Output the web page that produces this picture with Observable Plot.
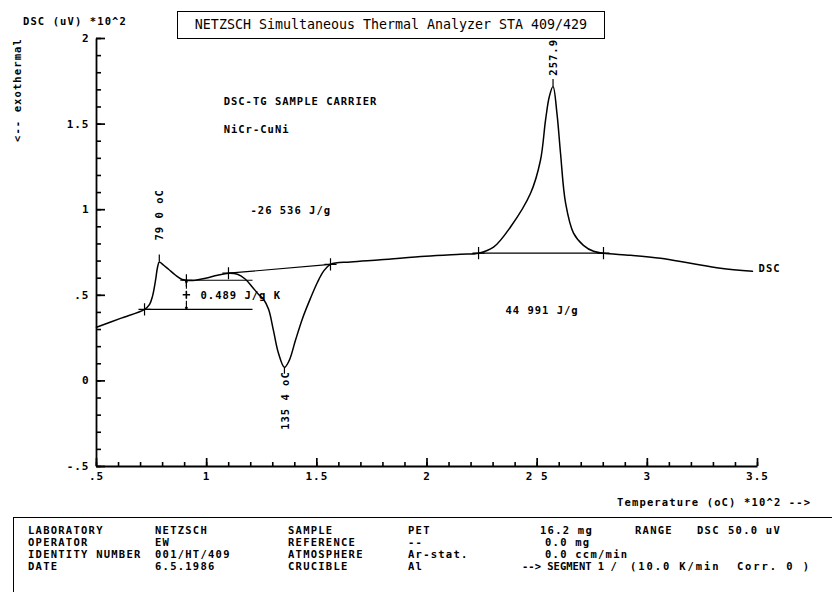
<!DOCTYPE html>
<html>
<head>
<meta charset="utf-8">
<script src="https://cdn.jsdelivr.net/npm/d3@7"></script>
<script src="https://cdn.jsdelivr.net/npm/@observablehq/plot@0.6"></script>
<style>
  html, body { margin: 0; padding: 0; background: #fff; }
  #wrap { position: relative; width: 832px; height: 592px; overflow: hidden; font-family: "DejaVu Sans Mono", monospace; color: #000; }
  #wrap svg { position: absolute; left: 0; top: 0; }
  .abs { position: absolute; white-space: pre; font-weight: bold; font-size: 10.5px; letter-spacing: 1.1px; line-height: 12px; }
  #title { position: absolute; left: 177px; top: 11px; width: 426px; height: 26px; border: 1.5px solid #000;
           font-size: 13.3px; line-height: 26px; text-align: center; white-space: pre; }
  #tbl { position: absolute; left: 13px; top: 517px; width: 830px; height: 90px; border-top: 1.5px solid #000; border-left: 1.5px solid #000; }
  .cell { position: absolute; white-space: pre; font-weight: bold; font-size: 10.5px; letter-spacing: 1.25px; line-height: 12px; }
</style>
</head>
<body>
<div id="wrap"></div>
<script>
// ---- DSC curve (temperature in °C ×10^2, DSC in uV ×10^2) ----
const temperature = [0.500, 0.609, 0.718, 0.741, 0.754, 0.768, 0.777, 0.785, 0.800, 0.827, 0.859, 0.886, 0.908, 0.949, 0.995,
  1.049, 1.099, 1.140, 1.176, 1.208, 1.235, 1.258, 1.281, 1.303, 1.326, 1.353, 1.375, 1.403, 1.435, 1.471, 1.503, 1.530, 1.562,
  1.653, 1.789, 1.993, 2.152, 2.234, 2.302, 2.379, 2.470, 2.515, 2.538, 2.555, 2.572, 2.590, 2.606, 2.629, 2.665, 2.710, 2.756,
  2.801, 2.924, 3.060, 3.196, 3.332, 3.477];
const dscValue = [0.313, 0.365, 0.418, 0.447, 0.494, 0.588, 0.664, 0.695, 0.681, 0.652, 0.617, 0.594, 0.588, 0.588, 0.599,
  0.617, 0.629, 0.623, 0.594, 0.547, 0.506, 0.477, 0.418, 0.295, 0.161, 0.079, 0.120, 0.237, 0.365, 0.482, 0.576, 0.640, 0.681,
  0.695, 0.707, 0.728, 0.740, 0.746, 0.781, 0.899, 1.096, 1.289, 1.523, 1.660, 1.720, 1.560, 1.330, 1.038, 0.863, 0.792, 0.757,
  0.746, 0.734, 0.716, 0.687, 0.658, 0.640];

// evaluation markers (+)
const markerT = [0.718, 0.908, 1.099, 1.562, 2.234, 2.801];
const markerV = [0.418, 0.588, 0.629, 0.681, 0.746, 0.746];

// construction lines [t1, v1, t2, v2]
const baseLines = [
  [0.718, 0.418, 1.208, 0.418],
  [0.908, 0.588, 1.208, 0.588],
  [1.099, 0.629, 1.562, 0.681],
  [2.234, 0.746, 2.801, 0.746]
];
// glass step (dashed) and its arrows
const stepT = 0.908, stepLow = 0.418, stepHigh = 0.588, stepMid = 0.503;

// peak values
const peakT = [0.785, 1.353, 2.572];
const peakV = [0.695, 0.079, 1.720];
const peakLabels = ["79 0 oC", "135 4 oC", "257.9"];
const peakLabelT = [0.785, 1.360, 2.575];
const peakLabelV = [0.970, -0.115, 1.890];

// annotations
const noteText = ["DSC-TG SAMPLE CARRIER", "NiCr-CuNi", "-26 536 J/g", "0.489 J/g K", "44 991 J/g", "DSC"];
const noteT = [1.077, 1.077, 1.199, 0.972, 2.356, 3.505];
const noteV = [1.629, 1.470, 0.997, 0.500, 0.412, 0.658];

// axes
const xTicks = [0.5, 1, 1.5, 2, 2.5, 3, 3.5];
const xTickLabels = [".5", "1", "1.5", "2", "2 5", "3", "3.5"];
const yTicks = [-0.5, 0, 0.5, 1, 1.5, 2];
const yTickLabels = ["-.5", "0", ".5", "1", "1.5", "2"];
const xMinor = d3.range(5, 36).map(d => d / 10);
const yMinor = d3.range(-5, 21).map(d => d / 10);

// table
const tableRows = [
  ["LABORATORY", "NETZSCH", "SAMPLE", "PET", "16.2 mg", "RANGE", "DSC", "50.0 uV"],
  ["OPERATOR", "EW", "REFERENCE", "--", "0.0 mg", "", "", ""],
  ["IDENTITY NUMBER", "001/HT/409", "ATMOSPHERE", "Ar-stat.", "0.0 ccm/min", "", "", ""],
  ["DATE", "6.5.1986", "CRUCIBLE", "Al", "--> SEGMENT 1 /", "(10.0 K/min  Corr. 0 )", "", ""]
];

// ---- build ----
const W = 832, H = 592;
const mL = 96, mR = 75, mT = 38, mB = 126;
const xDom = [0.5, 3.5], yDom = [-0.5, 2];

const curve = temperature.map((t, i) => ({t, v: dscValue[i]}));
const markers = markerT.map((t, i) => ({t, v: markerV[i]}));
const lines = baseLines.map(([t1, v1, t2, v2]) => ({t1, v1, t2, v2}));
const peaks = peakT.map((t, i) => ({t, v: peakV[i], up: i !== 1}));
const plabels = peakLabels.map((s, i) => ({s, t: peakLabelT[i], v: peakLabelV[i]}));
const notes = noteText.map((s, i) => ({s, t: noteT[i], v: noteV[i]}));
const xLab = new Map(xTicks.map((d, i) => [Math.round(d * 10), xTickLabels[i]]));
const yLab = new Map(yTicks.map((d, i) => [Math.round(d * 10), yTickLabels[i]]));
const axisSegs = [
  {x1: xDom[0], x2: xDom[0], y1: yDom[0], y2: yDom[1]},
  {x1: xDom[0], x2: xDom[1], y1: yDom[0], y2: yDom[0]}
];

const font = "'DejaVu Sans Mono', monospace";

const chart = Plot.plot({
  width: W, height: H,
  marginLeft: mL, marginRight: mR, marginTop: mT, marginBottom: mB,
  x: {domain: xDom, label: null},
  y: {domain: yDom, label: null},
  style: {fontFamily: font, background: "transparent", overflow: "visible", color: "#000"},
  marks: [
    // inward ticks (negative tick size draws them inside the frame)
    Plot.axisY({ticks: yMinor, tickSize: -5, tickFormat: () => "", stroke: "#000", strokeWidth: 1.6, label: null}),
    Plot.axisY({ticks: yTicks, tickSize: -9, tickPadding: 7 + 9, tickFormat: d => yLab.get(Math.round(d * 10)),
      fontSize: 11, fontWeight: "bold", stroke: "#000", strokeWidth: 1.7, label: null}),
    Plot.axisX({ticks: xMinor, tickSize: -4, tickFormat: () => "", stroke: "#000", strokeWidth: 1.6, label: null}),
    Plot.axisX({ticks: xTicks, tickSize: -8, tickPadding: 6 + 8, tickFormat: d => xLab.get(Math.round(d * 10)),
      fontSize: 11, fontWeight: "bold", stroke: "#000", strokeWidth: 1.7, label: null}),
    Plot.link(axisSegs, {x1: "x1", x2: "x2", y1: "y1", y2: "y2", stroke: "#000", strokeWidth: 1.8}),
    Plot.link(lines, {x1: "t1", y1: "v1", x2: "t2", y2: "v2", stroke: "#000", strokeWidth: 1.2}),
    Plot.ruleX([stepT], {y1: stepLow, y2: stepHigh, stroke: "#000", strokeWidth: 1.1, strokeDasharray: "3,2"}),
    Plot.arrow([{y1: stepMid - 0.05, y2: stepLow}, {y1: stepMid + 0.05, y2: stepHigh}],
      {x1: () => stepT, x2: () => stepT, y1: "y1", y2: "y2", headLength: 6, stroke: "#000", strokeWidth: 1.1}),
    Plot.dot([{t: stepT, v: stepMid}], {x: "t", y: "v", symbol: "plus", r: 2.5, stroke: "#000"}),
    Plot.line(curve, {x: "t", y: "v", curve: "catmull-rom", stroke: "#000", strokeWidth: 1.5}),
    Plot.dot(markers, {x: "t", y: "v", symbol: "plus", r: 4, stroke: "#000", strokeWidth: 1.2}),
    Plot.ruleX(peaks, {x: "t", y1: "v", y2: d => d.up ? d.v + 0.04 : d.v - 0.04, stroke: "#000", strokeWidth: 1.2}),
    Plot.text(plabels, {x: "t", y: "v", text: "s", rotate: -90, fontSize: 10.5, fontWeight: "bold", fill: "#000"}),
    Plot.text(notes, {x: "t", y: "v", text: "s", textAnchor: "start", fontSize: 10.5, fontWeight: "bold", fill: "#000"})
  ]
});

const wrap = document.getElementById("wrap");
wrap.appendChild(chart);
chart.querySelectorAll("text").forEach(t => t.style.letterSpacing = "1px");

function addDiv(cls, text, css, id, parent) {
  const d = document.createElement("div");
  if (cls) d.className = cls;
  if (id) d.id = id;
  d.textContent = text;
  Object.assign(d.style, css || {});
  (parent || wrap).appendChild(d);
  return d;
}
addDiv(null, "NETZSCH Simultaneous Thermal Analyzer STA 409/429", {}, "title");
addDiv("abs", "DSC (uV) *10^2", {left: "23px", top: "15px"});
addDiv("abs", "<-- exothermal", {left: "-33px", top: "86px", transform: "rotate(-90deg)", width: "100px", textAlign: "center"});
addDiv("abs", "Temperature (oC) *10^2 -->", {left: "617px", top: "496px", fontSize: "10.5px", letterSpacing: "1.15px"});

const tbl = document.createElement("div");
tbl.id = "tbl";
wrap.appendChild(tbl);
const colX = [28, 155, 288, 408, 545, 635, 697, 728];
tableRows.forEach((row, r) => {
  row.forEach((txt, c) => {
    if (!txt) return;
    let x = colX[c];
    const css = {top: (524 + r * 12) + "px"};
    if (c === 4 && r === 0) x = 540;
    if (c === 4 && r === 3) { x = 522; css.letterSpacing = "0px"; }
    if (c === 5 && r === 3) { x = 630; css.letterSpacing = "1.9px"; }
    css.left = x + "px";
    addDiv("cell", txt, css);
  });
});
</script>
</body>
</html>
